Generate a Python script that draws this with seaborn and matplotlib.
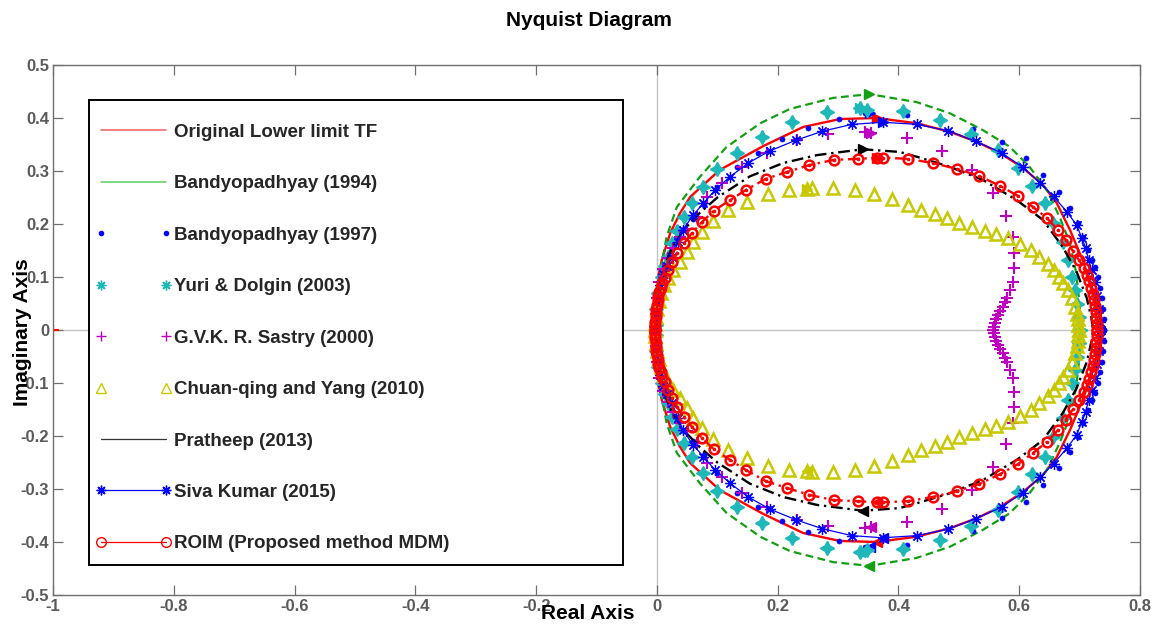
import numpy as np
import matplotlib
matplotlib.use("Agg")
import matplotlib.pyplot as plt
from matplotlib.lines import Line2D
from matplotlib.patches import Rectangle
import seaborn as sns

# ---- Nyquist data (upper half, from high frequency near the origin to DC);
# the lower half is the complex conjugate of each series ----
orig_x = [0.0, 0.001, 0.002, 0.008, 0.022, 0.038, 0.055, 0.104, 0.176, 0.242, 0.303, 0.364,
          0.43, 0.485, 0.53, 0.568, 0.606, 0.639, 0.662, 0.684, 0.705, 0.718, 0.728, 0.734, 0.736]
orig_y = [0.0, 0.05, 0.1, 0.132, 0.183, 0.22, 0.251, 0.302, 0.347, 0.383, 0.398, 0.400,
          0.39, 0.374, 0.355, 0.334, 0.306, 0.274, 0.24, 0.189, 0.132, 0.09, 0.05, 0.02, 0.0]

b94_x = [0.0, 0.002, 0.007, 0.016, 0.033, 0.071, 0.115, 0.171, 0.22, 0.292, 0.352, 0.43,
         0.485, 0.54, 0.584, 0.617, 0.646, 0.667, 0.684, 0.694, 0.70, 0.702]
b94_y = [0.0, 0.06, 0.12, 0.176, 0.232, 0.289, 0.345, 0.39, 0.417, 0.438, 0.445, 0.43,
         0.409, 0.377, 0.346, 0.308, 0.264, 0.213, 0.164, 0.11, 0.05, 0.0]

b97_x = [-0.002, -0.002, 0.0, 0.002, 0.005, 0.01, 0.016, 0.024, 0.034, 0.045, 0.06, 0.078,
         0.1, 0.132, 0.167, 0.207, 0.25, 0.301, 0.344, 0.353, 0.414, 0.523, 0.571, 0.611,
         0.639, 0.666, 0.684, 0.697, 0.705, 0.714, 0.72, 0.725, 0.73, 0.734, 0.737, 0.739,
         0.74, 0.741]
b97_y = [0.01, 0.03, 0.05, 0.07, 0.09, 0.11, 0.13, 0.15, 0.17, 0.19, 0.21, 0.235,
         0.27, 0.307, 0.334, 0.36, 0.381, 0.398, 0.409, 0.41, 0.406, 0.379, 0.355, 0.325,
         0.292, 0.26, 0.23, 0.202, 0.176, 0.151, 0.132, 0.119, 0.1, 0.08, 0.06, 0.04,
         0.02, 0.0]

yuri_x = [-0.002, -0.001, 0.002, 0.008, 0.013, 0.019, 0.025, 0.033, 0.044, 0.058, 0.077,
          0.099, 0.132, 0.174, 0.224, 0.281, 0.336, 0.348, 0.408, 0.468, 0.52, 0.565, 0.598,
          0.622, 0.642, 0.656, 0.672, 0.68, 0.687, 0.692, 0.696, 0.699, 0.700]
yuri_y = [0.01, 0.04, 0.07, 0.1, 0.12, 0.138, 0.164, 0.186, 0.214, 0.24, 0.27,
          0.304, 0.334, 0.364, 0.392, 0.411, 0.419, 0.415, 0.414, 0.396, 0.37, 0.34, 0.306,
          0.272, 0.24, 0.202, 0.166, 0.132, 0.1, 0.075, 0.05, 0.025, 0.0]

sastry_x = [-0.003, -0.002, 0.0, 0.004, 0.01, 0.018, 0.027, 0.038, 0.05, 0.066, 0.083,
            0.107, 0.141, 0.182, 0.232, 0.283, 0.344, 0.354, 0.414, 0.472, 0.521, 0.556,
            0.578, 0.589, 0.591, 0.591, 0.589, 0.584, 0.579, 0.576, 0.573, 0.569, 0.565,
            0.562, 0.56, 0.558, 0.557]
sastry_y = [0.005, 0.03, 0.06, 0.09, 0.115, 0.135, 0.155, 0.175, 0.19, 0.214, 0.251,
            0.277, 0.307, 0.334, 0.358, 0.37, 0.374, 0.372, 0.362, 0.338, 0.302, 0.258,
            0.215, 0.176, 0.145, 0.117, 0.09, 0.075, 0.06, 0.052, 0.044, 0.036, 0.028,
            0.02, 0.013, 0.006, 0.0]

chuan_x = [-0.003, -0.003, -0.002, 0.0, 0.003, 0.007, 0.012, 0.018, 0.026, 0.038, 0.05,
           0.06, 0.075, 0.093, 0.118, 0.149, 0.184, 0.219, 0.248, 0.257, 0.291, 0.328,
           0.359, 0.39, 0.416, 0.438, 0.46, 0.48, 0.5, 0.521, 0.543, 0.562, 0.581, 0.601,
           0.619, 0.632, 0.647, 0.658, 0.666, 0.672, 0.68, 0.687, 0.692, 0.695, 0.697,
           0.698, 0.699]
chuan_y = [0.0, 0.012, 0.025, 0.04, 0.055, 0.07, 0.085, 0.098, 0.113, 0.128, 0.147,
           0.166, 0.185, 0.206, 0.226, 0.242, 0.257, 0.264, 0.266, 0.268, 0.268, 0.264,
           0.257, 0.248, 0.236, 0.226, 0.219, 0.211, 0.202, 0.195, 0.187, 0.181, 0.174, 0.162,
           0.151, 0.138, 0.124, 0.113, 0.1, 0.089, 0.075, 0.06, 0.043, 0.03, 0.02,
           0.01, 0.0]

prath_x = [-0.001, 0.0, 0.004, 0.012, 0.025, 0.045, 0.07, 0.1, 0.154, 0.209, 0.265, 0.341,
           0.402, 0.43, 0.485, 0.54, 0.596, 0.639, 0.672, 0.695, 0.712, 0.72, 0.722]
prath_y = [0.0, 0.04, 0.08, 0.12, 0.155, 0.19, 0.22, 0.25, 0.29, 0.315, 0.33, 0.341,
           0.336, 0.327, 0.308, 0.283, 0.245, 0.208, 0.157, 0.11, 0.06, 0.02, 0.0]

siva_x = [-0.002, -0.001, 0.001, 0.005, 0.01, 0.017, 0.025, 0.035, 0.043, 0.06, 0.077,
          0.096, 0.121, 0.151, 0.187, 0.23, 0.274, 0.323, 0.374, 0.43, 0.482, 0.528, 0.571,
          0.606, 0.634, 0.657, 0.679, 0.695, 0.704, 0.71, 0.715, 0.72, 0.725, 0.729, 0.732,
          0.734, 0.735]
siva_y = [0.0, 0.03, 0.06, 0.085, 0.105, 0.12, 0.138, 0.166, 0.189, 0.217, 0.239,
          0.264, 0.289, 0.315, 0.338, 0.358, 0.375, 0.388, 0.392, 0.388, 0.376, 0.356, 0.334,
          0.307, 0.278, 0.252, 0.223, 0.198, 0.173, 0.155, 0.132, 0.113, 0.09, 0.065, 0.04,
          0.015, 0.0]

roim_x = [-0.003, -0.003, -0.003, -0.002, -0.002, -0.001, 0.0, 0.001, 0.002, 0.004, 0.006,
          0.009, 0.013, 0.018, 0.025, 0.033, 0.045, 0.058, 0.075, 0.094, 0.121, 0.147, 0.18,
          0.215, 0.252, 0.293, 0.333, 0.364, 0.374, 0.416, 0.457, 0.497, 0.533, 0.568, 0.598,
          0.623, 0.646, 0.664, 0.677, 0.689, 0.699, 0.707, 0.712, 0.716, 0.719, 0.722, 0.724,
          0.726, 0.727, 0.728, 0.729, 0.729]
roim_y = [0.0, 0.008, 0.016, 0.024, 0.032, 0.04, 0.048, 0.056, 0.064, 0.072, 0.08,
          0.088, 0.098, 0.113, 0.128, 0.145, 0.164, 0.183, 0.204, 0.225, 0.245, 0.264, 0.285,
          0.298, 0.311, 0.321, 0.323, 0.325, 0.325, 0.323, 0.315, 0.304, 0.291, 0.272, 0.253,
          0.232, 0.211, 0.189, 0.17, 0.149, 0.132, 0.117, 0.104, 0.092, 0.08, 0.068, 0.056,
          0.045, 0.034, 0.023, 0.012, 0.0]

labels = ["Original Lower limit TF", "Bandyopadhyay (1994)", "Bandyopadhyay (1997)",
          "Yuri & Dolgin (2003)", "G.V.K. R. Sastry (2000)", "Chuan-qing and Yang (2010)",
          "Pratheep (2013)", "Siva Kumar (2015)", "ROIM (Proposed method MDM)"]
# real-axis location of the direction arrow on each curve
arrow_at = [0.364, 0.352, 0.353, 0.336, 0.354, 0.248, 0.341, 0.374, 0.364]

x_ticks = [-1, -0.8, -0.6, -0.4, -0.2, 0, 0.2, 0.4, 0.6, 0.8]
y_ticks = [-0.5, -0.4, -0.3, -0.2, -0.1, 0, 0.1, 0.2, 0.3, 0.4, 0.5]

RED, GREEN, BLUE, CYAN = "#ff0000", "#11a011", "#0000ff", "#1fb8b8"
MAGENTA, YELLOW, BLACK = "#c000c0", "#c8c800", "#000000"


def closed_loop(ux, uy):
    """Join the upper branch with its conjugate to form the full Nyquist contour."""
    x = list(ux) + list(ux[::-1])
    y = list(uy) + [-v for v in uy[::-1]]
    return x, y


sns.set_theme(style="white")
plt.rcParams["font.family"] = ["Liberation Sans", "DejaVu Sans"]
plt.rcParams["font.weight"] = "bold"

fig = plt.figure(figsize=(11.65, 6.25), dpi=100)
ax = fig.add_axes([0.0457, 0.048, 0.9328, 0.848])

ax.axhline(0, color="#c4c4c4", lw=1.0, zorder=0)
ax.axvline(0, color="#c4c4c4", lw=1.0, zorder=0)

series = [
    (orig_x, orig_y, dict(color=RED, lw=1.7, linestyle="-")),
    (b94_x, b94_y, dict(color=GREEN, lw=1.6, linestyle=(0, (3.5, 2.0)))),
    (b97_x, b97_y, dict(color=BLUE, linestyle="none", marker="o", markersize=3.6,
                        markerfacecolor=BLUE, markeredgecolor=BLUE, markeredgewidth=0.5)),
    (yuri_x, yuri_y, dict(color=CYAN, linestyle="none", marker=(4, 1, 0), markersize=10,
                          markerfacecolor=CYAN, markeredgecolor=CYAN, markeredgewidth=1.2)),
    (sastry_x, sastry_y, dict(color=MAGENTA, linestyle="none", marker="+", markersize=9,
                              markeredgecolor=MAGENTA, markeredgewidth=1.5)),
    (chuan_x, chuan_y, dict(color=YELLOW, linestyle="none", marker="^", markersize=9,
                            markerfacecolor="none", markeredgecolor=YELLOW,
                            markeredgewidth=1.8)),
    (prath_x, prath_y, dict(color=BLACK, lw=1.7, linestyle=(0, (5, 2, 1, 2)))),
    (siva_x, siva_y, dict(color=BLUE, lw=0.9, linestyle="-", marker=(8, 2, 0), markersize=8,
                          markeredgecolor=BLUE, markeredgewidth=0.9)),
    (roim_x, roim_y, dict(color=RED, lw=1.7, linestyle=(0, (5, 2, 1, 2)), marker="o",
                          markersize=7, markerfacecolor="none", markeredgecolor=RED,
                          markeredgewidth=1.8)),
]

for i, (ux, uy, style) in enumerate(series):
    x, y = closed_loop(ux, uy)
    sns.lineplot(x=x, y=y, sort=False, estimator=None, ax=ax, legend=False, **style)
    # direction arrows: rightwards on the upper branch, leftwards on the lower branch
    k = int(np.argmin(np.abs(np.asarray(ux) - arrow_at[i])))
    ax.plot(ux[k], uy[k], marker=">", color=style["color"], markersize=7, linestyle="none")
    ax.plot(ux[k], -uy[k], marker="<", color=style["color"], markersize=7, linestyle="none")

# small centre dots of the ROIM markers
rx, ry = closed_loop(roim_x, roim_y)
ax.plot(rx, ry, linestyle="none", marker="o", markersize=1.6, color=RED)

# critical point -1 + 0j
ax.plot([-1], [0], marker="+", color=RED, markersize=9, markeredgewidth=1.5, clip_on=True)


def tick_text(v):
    return "0" if abs(v) < 1e-9 else f"{v:g}"


ax.set_xlim(-1, 0.8)
ax.set_ylim(-0.5, 0.5)
ax.set_xticks(x_ticks)
ax.set_yticks(y_ticks)
ax.set_xticklabels([tick_text(v) for v in x_ticks])
ax.set_yticklabels([tick_text(v) for v in y_ticks])
ax.tick_params(direction="in", length=7, width=0.9, color="#707070", labelcolor="#5a5a5a",
               labelsize=12, top=True, right=True, bottom=True, left=True, pad=3)
for lab in ax.get_xticklabels() + ax.get_yticklabels():
    lab.set_fontweight("bold")
for sp in ax.spines.values():
    sp.set_visible(True)
    sp.set_color("#707070")
    sp.set_linewidth(1.0)

fig.text(0.5055, 0.968, "Nyquist Diagram", ha="center", va="center", fontsize=15,
         fontweight="bold", color="black")
fig.text(0.5047, 0.019, "Real Axis", ha="center", va="center", fontsize=15,
         fontweight="bold", color="black")
fig.text(0.019, 0.469, "Imaginary Axis", ha="center", va="center", rotation=90,
         fontsize=15, fontweight="bold", color="black")

# legend frame and entries
ax.add_patch(Rectangle((0.0329, 0.0566), 0.4914, 0.8774, transform=ax.transAxes,
                       facecolor="white", edgecolor="black", lw=1.4, zorder=5))
handles = [
    Line2D([], [], color="#f26a6a", lw=1.2),
    Line2D([], [], color="#6ccf6c", lw=1.2),
    Line2D([], [], color=BLUE, linestyle="none", marker="o", markersize=3),
    Line2D([], [], color=CYAN, linestyle="none", marker=(8, 2, 0), markersize=7,
           markeredgewidth=1.0),
    Line2D([], [], color=MAGENTA, linestyle="none", marker="+", markersize=7,
           markeredgewidth=1.0),
    Line2D([], [], color=YELLOW, linestyle="none", marker="^", markersize=7,
           markerfacecolor="none", markeredgewidth=1.0),
    Line2D([], [], color="#333333", lw=0.9),
    Line2D([], [], color=BLUE, lw=0.9, marker=(8, 2, 0), markersize=7, markeredgewidth=1.0),
    Line2D([], [], color=RED, lw=0.9, marker="o", markersize=7, markerfacecolor="none",
           markeredgewidth=1.0),
]
leg = ax.legend(handles, labels, loc="upper left", bbox_to_anchor=(0.0385, 0.889),
                frameon=False, borderpad=0, borderaxespad=0, numpoints=2,
                handlelength=4.08, handletextpad=0.15, labelspacing=1.83,
                prop=dict(family=["Liberation Sans", "DejaVu Sans"], weight="bold", size=13.5))
leg.set_zorder(6)

fig.savefig("out.png", dpi=100)
